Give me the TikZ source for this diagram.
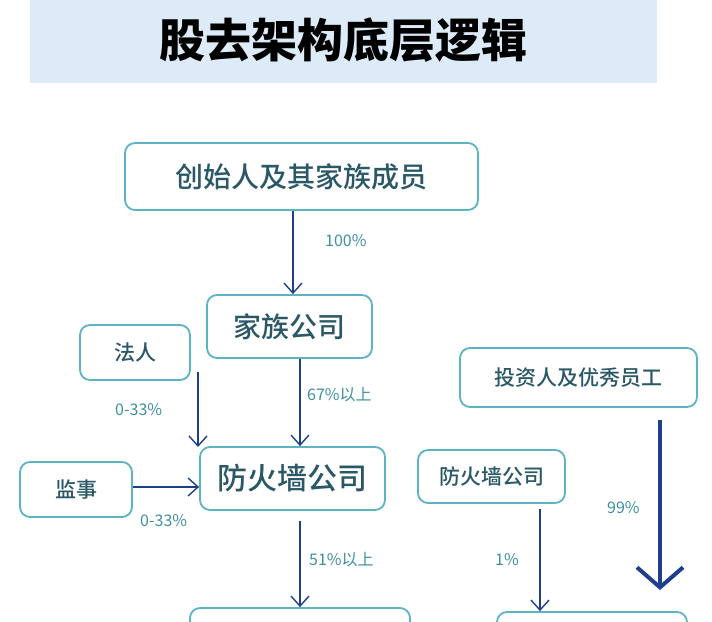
\documentclass[tikz,border=0pt]{standalone}
\usepackage{fontspec}
\newfontfamily\cjk{Noto Sans CJK SC Medium}
\newfontfamily\cjkb{Noto Sans CJK SC Black}
\newfontfamily\cjkl{Noto Sans CJK SC}
\usetikzlibrary{arrows.meta}
\definecolor{boxline}{HTML}{5BB3C4}
\definecolor{boxtext}{HTML}{2A5866}
\definecolor{arr}{HTML}{1F3F8C}
\definecolor{lbl}{HTML}{3E8FA0}
\definecolor{banner}{HTML}{DCEBF7}
\tikzset{
  box/.style={draw=boxline,line width=1.8pt,rounded corners=10pt,fill=white,text=boxtext,font=\cjk},
  conn/.style={draw=arr,line width=1.4pt,-{Straight Barb[length=10pt,width=18pt,line width=1.4pt]}},
  lab/.style={text=lbl,font=\cjkl\fontsize{16}{16}\selectfont,inner sep=0pt},
}
\begin{document}
\begin{tikzpicture}[x=1pt,y=-1pt]
\useasboundingbox (0,0) rectangle (712,621);
\clip (0,0) rectangle (712,621);
\fill[banner] (30,0) rectangle (657,83);
\node[font=\cjkb\fontsize{46}{46}\selectfont] (title) at (343,40) {股去架构底层逻辑};
\node[box,minimum width=353pt,minimum height=67pt,font=\cjk\fontsize{28}{28}\selectfont] (fam) at (301.5,176.5) {创始人及其家族成员};
\node[box,minimum width=165pt,minimum height=63pt,font=\cjk\fontsize{28}{28}\selectfont] (fc) at (289.5,326.5) {家族公司};
\node[box,minimum width=110pt,minimum height=55pt,font=\cjk\fontsize{21}{21}\selectfont] (fr) at (135,352.5) {法人};
\node[box,minimum width=237pt,minimum height=59pt,font=\cjk\fontsize{21}{21}\selectfont] (inv) at (578.5,377.5) {投资人及优秀员工};
\node[box,minimum width=185pt,minimum height=63pt,font=\cjk\fontsize{30}{30}\selectfont] (fw) at (292.5,478.5) {防火墙公司};
\node[box,minimum width=112pt,minimum height=55pt,font=\cjk\fontsize{21}{21}\selectfont] (js) at (76,489.5) {监事};
\node[box,minimum width=147pt,minimum height=53pt,font=\cjk\fontsize{21}{21}\selectfont] (fw2) at (491.5,476.5) {防火墙公司};
\node[box,minimum width=220pt,minimum height=60pt] (b1) at (300,638) {};
\node[box,minimum width=190pt,minimum height=60pt] (b2) at (592,642) {};
\coordinate (frout) at (198,372);
\coordinate (fwin) at (198,447);
\coordinate (invout) at (660,420);
\coordinate (b2in) at (660,590);
\draw[conn] (fam.south -| 293,0) -- (fc.north -| 293,0);
\draw[conn] (fc.south -| 300,0) -- (fw.north -| 300,0);
\draw[conn] (frout) -- (fwin);
\draw[conn] (js.east |- 0,487) -- (fw.west |- 0,487);
\draw[conn] ([yshift=-10pt]fw.south -| 300,0) -- (b1.north -| 300,0);
\draw[conn] ([yshift=-5pt]fw2.south -| 540,0) -- (b2.north -| 540,0);
\draw[draw=arr,line width=4pt,-{Straight Barb[length=20pt,width=46pt,line width=4pt]}] (invout) -- (b2in);
\node[lab,anchor=west] (l1) at (325,241) {100\%};
\node[lab,anchor=west] (l2) at (307,395) {67\%以上};
\node[lab,anchor=west] (l3) at (115,410) {0-33\%};
\node[lab,anchor=west] (l4) at (140,521) {0-33\%};
\node[lab,anchor=west] (l5) at (309,560) {51\%以上};
\node[lab,anchor=west] (l6) at (495,560) {1\%};
\node[lab,anchor=west] (l7) at (607,508) {99\%};
\end{tikzpicture}
\end{document}
